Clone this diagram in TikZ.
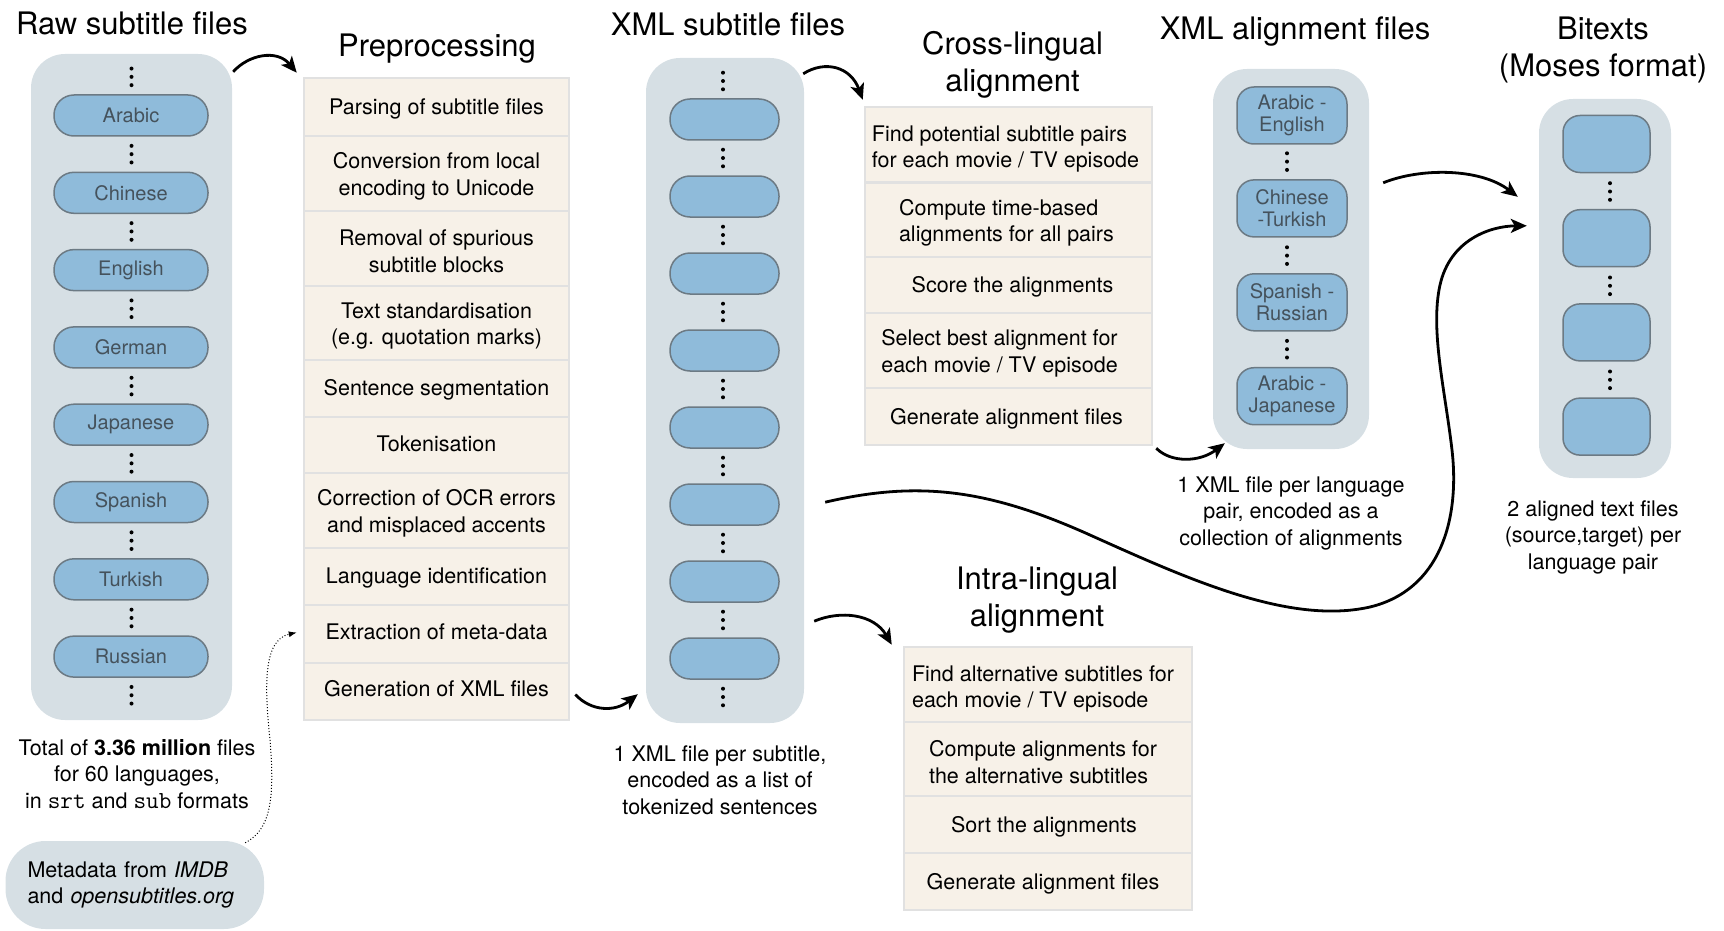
\documentclass[tikz,border=0pt]{standalone}
\usepackage{fontspec}
\setmainfont{TeX Gyre Heros}
\usetikzlibrary{arrows.meta,calc}
\definecolor{contfill}{HTML}{D6DFE4}
\definecolor{pillfill}{HTML}{8FBBDA}
\definecolor{pillline}{HTML}{6C7A84}
\definecolor{pilltext}{HTML}{45525C}
\definecolor{rowfill}{HTML}{F7F1E8}
\definecolor{rowline}{HTML}{E1E1E1}
\newcommand\bodytxt{\fontsize{21.5}{26.5}\selectfont}
\newcommand\titletxt{\fontsize{31}{37}\selectfont}
\newcommand\pilltxt{\fontsize{20}{21.5}\selectfont}
\newcommand\codetxt[1]{{\fontsize{24.5}{26.5}\selectfont\ttfamily #1}}
\newcommand\vdts[2]{\foreach \dy in {-8.3,0,8.3}{\fill (#1,{#2+\dy}) circle[radius=2pt];}}
\begin{document}
\begin{tikzpicture}[x=1pt,y=-1pt,
  cont/.style={fill=contfill,draw=none,rounded corners=34pt,inner sep=0},
  lpill/.style={fill=pillfill,draw=pillline,line width=1.5pt,rounded corners=20pt,
    minimum width=154pt,minimum height=41pt,inner sep=0,text=pilltext,font=\pilltxt},
  xpill/.style={lpill,minimum width=109pt},
  apill/.style={lpill,rounded corners=17pt,minimum width=110pt,minimum height=57pt,align=center},
  bpill/.style={apill,minimum width=87pt},
  row/.style={fill=rowfill,draw=rowline,line width=2.5pt,inner sep=0},
  rowone/.style={font=\bodytxt,inner sep=0,align=center,text height=15.5pt,text depth=4.5pt,yshift=-1pt},
  rowtwo/.style={font=\bodytxt,inner sep=0,align=center,yshift=-3pt},
  lrowone/.style={rowone,align=left},
  lrowtwo/.style={rowtwo,align=left},
  title/.style={font=\titletxt,inner sep=0,align=center},
  captxt/.style={font=\bodytxt,inner sep=0,align=center},
  conn/.style={line width=2.8pt,-{Stealth[length=16pt,width=14pt,inset=4pt]}}]
\useasboundingbox (0,0) rectangle (1724,931);

% titles
\node[title,anchor=base] (traw) at (132,35) {Raw subtitle files};
\node[title,anchor=base] (tpre) at (437,57) {Preprocessing};
\node[title,anchor=base] (txml) at (728,36) {XML subtitle files};
\node[title] (tcross) at (1012.5,64.5) {Cross-lingual\\alignment};
\node[title,anchor=base] (tali) at (1295,40) {XML alignment files};
\node[title] (tbi) at (1603,50.4) {Bitexts\\(Moses format)};
\node[title] (tintra) at (1037,600.5) {Intra-lingual\\alignment};

% containers
\node[cont,minimum width=201pt,minimum height=666pt] (raw) at (131.5,387) {};
\node[cont,minimum width=158pt,minimum height=665pt] (xmlc) at (725,390.5) {};
\node[cont,minimum width=156pt,minimum height=380pt] (alic) at (1291,259) {};
\node[cont,minimum width=132pt,minimum height=379pt] (bic) at (1605,288.5) {};

% raw pills
\foreach \t [count=\i] in {Arabic,Chinese,English,German,Japanese,Spanish,Turkish,Russian}
  \node[lpill] (r\i) at (131,{115.5+77.3*(\i-1)}) {\t};
\foreach \i in {0,...,8} {\vdts{131.5}{115.5+77.3*(\i-0.5)}}

% xml pills
\foreach \i in {1,...,8}
  \node[xpill] (x\i) at (724.5,{119.5+77*(\i-1)}) {};
\foreach \i in {0,...,8} {\vdts{723}{119.5+77*(\i-0.5)}}

% alignment pills
\node[apill] (a1) at (1292,115.5) {Arabic -\\English};
\node[apill] (a2) at (1292,208.4) {Chinese\\-Turkish};
\node[apill] (a3) at (1292,302.3) {Spanish -\\Russian};
\node[apill] (a4) at (1292,396.2) {Arabic -\\Japanese};
\vdts{1287}{161.6}
\vdts{1287}{255.6}
\vdts{1287}{349.2}

% bitext pills
\foreach \i in {1,...,4}
  \node[bpill] (b\i) at (1606.5,{144+94.2*(\i-1)}) {};
\vdts{1610}{191.5}
\vdts{1610}{285.8}
\vdts{1610}{379.8}

% preprocessing table
\node[row,minimum width=265pt,minimum height=58pt,label={[rowone,yshift=-1.5pt]center:{Parsing of subtitle files}}] (p1) at (436.5,107) {};
\node[row,minimum width=265pt,minimum height=75pt,label={[rowtwo]center:{Conversion from local\\encoding to Unicode}}] (p2) at (436.5,173.5) {};
\node[row,minimum width=265pt,minimum height=75pt,label={[rowtwo]center:{Removal of spurious\\subtitle blocks}}] (p3) at (436.5,248.5) {};
\node[row,minimum width=265pt,minimum height=74pt,label={[rowtwo]center:{Text standardisation\\(e.g. quotation marks)}}] (p4) at (436.5,323) {};
\node[row,minimum width=265pt,minimum height=57pt,label={[rowone]center:{Sentence segmentation}}] (p5) at (436.5,388.5) {};
\node[row,minimum width=265pt,minimum height=56pt,label={[rowone]center:{Tokenisation}}] (p6) at (436.5,445) {};
\node[row,minimum width=265pt,minimum height=75pt,label={[rowtwo]center:{Correction of OCR errors\\and misplaced accents}}] (p7) at (436.5,510.5) {};
\node[row,minimum width=265pt,minimum height=57pt,label={[rowone]center:{Language identification}}] (p8) at (436.5,576.5) {};
\node[row,minimum width=265pt,minimum height=58pt,label={[rowone,yshift=1.5pt]center:{Extraction of meta-data}}] (p9) at (436.5,634) {};
\node[row,minimum width=265pt,minimum height=57pt,label={[rowone,yshift=1.5pt]center:{Generation of XML files}}] (p10) at (436.5,691.5) {};

% cross-lingual table
\node[row,minimum width=287pt,minimum height=75.5pt,label={[lrowtwo,xshift=-3pt,yshift=-1.5pt]center:{Find potential subtitle pairs\\for each movie / TV episode}}] (c1) at (1008.5,144.75) {};
\node[row,minimum width=287pt,minimum height=74.5pt,label={[lrowtwo,xshift=-2pt]center:{Compute time-based\\alignments for all pairs}}] (c2) at (1008.5,219.75) {};
\node[row,minimum width=287pt,minimum height=56pt,label={[lrowone,xshift=4pt,yshift=-1pt]center:{Score the alignments}}] (c3) at (1008.5,285) {};
\node[row,minimum width=287pt,minimum height=75pt,label={[lrowtwo,xshift=-9pt]center:{Select best alignment for\\each movie / TV episode}}] (c4) at (1008.5,350.5) {};
\node[row,minimum width=287pt,minimum height=57pt,label={[lrowone,xshift=-2pt,yshift=-1pt]center:{Generate alignment files}}] (c5) at (1008.5,416.5) {};

% intra-lingual table
\node[row,minimum width=288pt,minimum height=75pt,label={[lrowtwo,xshift=-5pt,yshift=-1.5pt]center:{Find alternative subtitles for\\each movie / TV episode}}] (i1) at (1048,684.5) {};
\node[row,minimum width=288pt,minimum height=74pt,label={[lrowtwo,xshift=-5pt]center:{Compute alignments for\\the alternative subtitles}}] (i2) at (1048,759) {};
\node[row,minimum width=288pt,minimum height=57pt,label={[lrowone,xshift=-4pt,yshift=-1pt]center:{Sort the alignments}}] (i3) at (1048,824.5) {};
\node[row,minimum width=288pt,minimum height=57pt,label={[lrowone,xshift=-5pt,yshift=-1pt]center:{Generate alignment files}}] (i4) at (1048,881.5) {};

% captions
\node[captxt] (rawcap) at (137,774) {Total of \textbf{3.36 million} files\\for 60 languages,\\in \codetxt{srt} and \codetxt{sub} formats};
\node[captxt] (xmlcap) at (720,780) {1 XML file per subtitle,\\encoded as a list of\\tokenized sentences};
\node[captxt] (alicap) at (1291,513) {1 XML file per language\\pair, encoded as a\\collection of alignments};
\node[captxt] (bicap) at (1593,537) {2 aligned text files\\(source,target) per\\language pair};

% metadata
\node[cont,rounded corners=40pt,minimum width=258.5pt,minimum height=88pt,
      text width=214.5pt,inner xsep=22pt,align=left,font=\bodytxt] (meta) at (134.75,885)
  {Metadata from \textit{IMDB}\\and \textit{opensubtitles.org}};

% connectors
\draw[conn] ($(raw.north east)+(1,18)$) .. controls +(15,-17) and +(-20,-24) .. ($(p1.north west)+(-6,-4)$);
\draw[conn] ($(p10.east)+(5,3)$) .. controls +(16,17) and +(-23,18) .. ($(xmlc.south west)+(-8,-29)$);
\draw[conn] ($(xmlc.north east)+(-1,16)$) .. controls +(22,-14) and +(-12,-33) .. ($(c1.north west)+(-1,-6)$);
\draw[conn] ($(c5.south east)+(3,2)$) .. controls +(15,15) and +(-25,19) .. ($(alic.south west)+(12,-6)$);
\draw[conn] ($(xmlc.south east)+(10,-102)$) .. controls +(26,-11) and +(-18,-31) .. ($(i1.north west)+(-11,-1)$);
\draw[conn] ($(alic.north east)+(14,114)$) .. controls +(37,-15) and +(-38,-29) .. ($(bic.north west)+(-21,98)$);
\coordinate (s7) at ($(xmlc.south east)+(21,-221)$);
\coordinate (e7) at ($(bic.north west)+(-12,127)$);
\draw[conn] (s7) .. controls (920,480) and (990,490) .. (1090,535)
  .. controls (1190,580) and (1290,625) .. (1370,607)
  .. controls (1440,590) and (1460,520) .. (1452,450)
  .. controls (1445,390) and (1430,330) .. (1440,285)
  .. controls (1450,240) and (1490,226) .. (e7);
\draw[line width=1pt,dotted,-{Latex[length=8pt,width=6pt]}] ($(meta.north east)+(-19,2)$)
  .. controls +(25,-13) and +(5,60) .. (270,740)
  .. controls (265,690) and (262,640) .. ($(p9.west)+(-6,-1.5)$);
\end{tikzpicture}
\end{document}
